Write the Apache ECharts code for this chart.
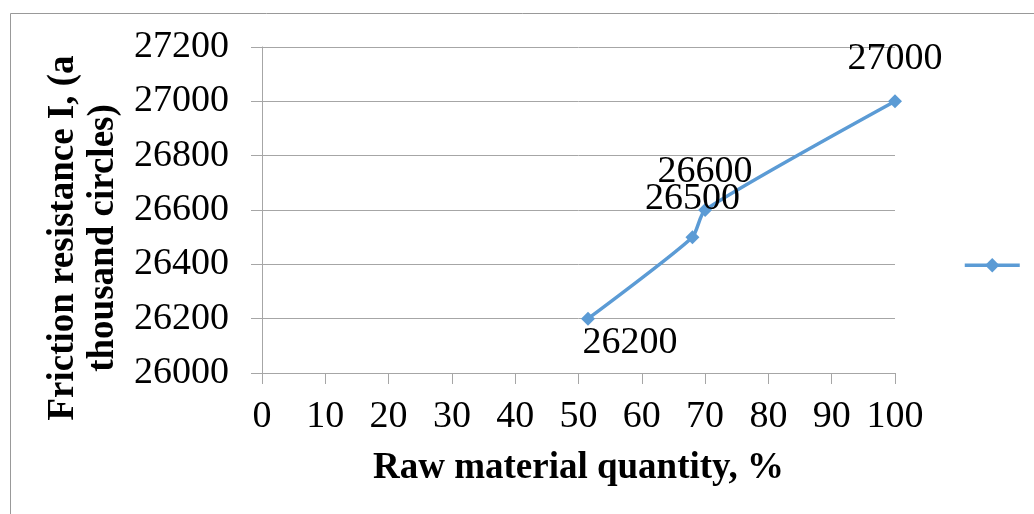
<!DOCTYPE html>
<html>
<head>
<meta charset="utf-8">
<script src="https://cdn.jsdelivr.net/npm/echarts@6/dist/echarts.min.js"></script>
<style>
  html, body { margin: 0; padding: 0; background: #fff; }
  #chart { width: 1034px; height: 514px; }
</style>
</head>
<body>
<div id="chart"></div>
<script>
// Raw material share (%) and the measured friction resistance (thousand circles)
var rawMaterial = [51.5, 68, 70, 100];
var frictionResistance = [26200, 26500, 26600, 27000];

var xTicks = { min: 0, max: 100, step: 10 };
var yTicks = { min: 26000, max: 27200, step: 200 };

var xTitle = 'Raw material quantity, %';
var yTitle = 'Friction resistance I, (a\nthousand circles)';

// Where each value label sits relative to its point
var labelPlacement = [
  { position: 'bottom', distance: -2, offset: [42, 0] },
  { position: 'top', distance: 12, offset: [0, 0] },
  { position: 'top', distance: 12, offset: [0, 0] },
  { position: 'top', distance: 16, offset: [0, 0] }
];

var serif = '"Liberation Serif", "Times New Roman", serif';
var gridColor = '#a6a6a6';
var lineColor = '#5b9bd5';

var points = rawMaterial.map(function (x, i) {
  var p = labelPlacement[i];
  return {
    value: [x, frictionResistance[i]],
    label: { position: p.position, distance: p.distance, offset: p.offset }
  };
});

var chart = echarts.init(document.getElementById('chart'));
chart.setOption({
  backgroundColor: '#ffffff',
  animation: false,
  textStyle: { fontFamily: serif },
  graphic: [
    { type: 'line', shape: { x1: 10.5, y1: 13.5, x2: 1034, y2: 13.5 }, style: { stroke: '#999', lineWidth: 1 } },
    { type: 'line', shape: { x1: 10.5, y1: 13.5, x2: 10.5, y2: 514 }, style: { stroke: '#999', lineWidth: 1 } }
  ],
  grid: { left: 262, right: 139, top: 47, bottom: 141, outerBoundsMode: 'none', containLabel: false },
  legend: {
    left: 963,
    top: 258,
    padding: 0,
    itemWidth: 55,
    itemHeight: 18,
    itemGap: 0,
    lineStyle: { width: 3.5, color: lineColor },
    itemStyle: { color: lineColor },
    textStyle: { fontSize: 1, color: 'rgba(0,0,0,0)' },
    data: [{ name: ' ' }]
  },
  xAxis: {
    type: 'value',
    min: xTicks.min,
    max: xTicks.max,
    interval: xTicks.step,
    name: xTitle,
    nameLocation: 'middle',
    nameGap: 77,
    nameTextStyle: { fontFamily: serif, fontSize: 37, fontWeight: 'bold', color: '#000' },
    axisLine: { show: true, lineStyle: { color: gridColor, width: 1 } },
    axisTick: { show: true, inside: false, length: 11, lineStyle: { color: gridColor } },
    axisLabel: { fontFamily: serif, fontSize: 38, color: '#000', margin: 25 },
    splitLine: { show: false }
  },
  yAxis: {
    type: 'value',
    min: yTicks.min,
    max: yTicks.max,
    interval: yTicks.step,
    name: yTitle,
    nameLocation: 'middle',
    nameRotate: 90,
    nameGap: 134,
    nameTextStyle: {
      fontFamily: serif, fontSize: 37, fontWeight: 'bold', color: '#000',
      lineHeight: 40, padding: [0, 56, 0, 0]
    },
    axisLine: { show: true, lineStyle: { color: gridColor, width: 1 } },
    axisTick: { show: true, inside: false, length: 11, lineStyle: { color: gridColor } },
    axisLabel: {
      fontFamily: serif, fontSize: 38, color: '#000', margin: 33,
      formatter: function (v) { return String(v); }
    },
    splitLine: { show: true, lineStyle: { color: gridColor, width: 1 } }
  },
  series: [{
    name: ' ',
    type: 'line',
    smooth: 0.2,
    data: points,
    symbol: 'diamond',
    symbolSize: 14,
    lineStyle: { color: lineColor, width: 3.5 },
    itemStyle: { color: lineColor },
    label: {
      show: true,
      fontFamily: serif,
      fontSize: 38,
      color: '#000',
      formatter: function (p) { return String(p.value[1]); }
    }
  }]
});
</script>
</body>
</html>
